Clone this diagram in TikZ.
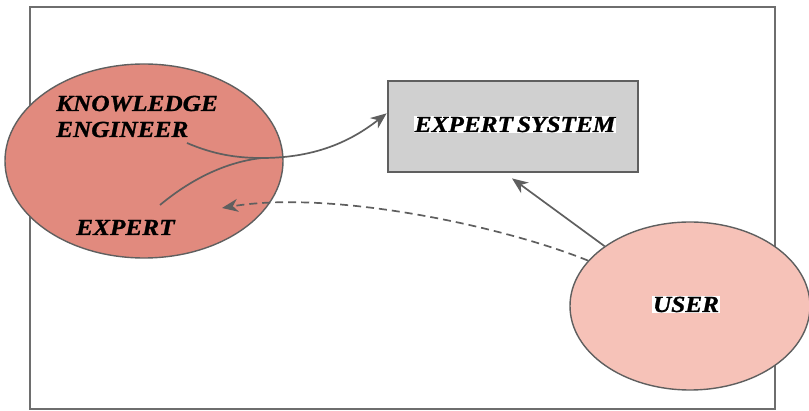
\documentclass[tikz,border=0pt]{standalone}
\usepackage{fontspec}
\newfontfamily\lblfont[FakeStretch=1.1,FakeBold=1]{Liberation Serif}
\usetikzlibrary{shapes.geometric,arrows.meta,calc}
\definecolor{keFill}{RGB}{225,138,126}
\definecolor{userFill}{RGB}{246,194,184}
\definecolor{boxFill}{RGB}{208,208,208}
\definecolor{edge}{RGB}{95,95,95}
\definecolor{frameC}{RGB}{110,110,110}
\tikzset{
  lbl/.style={inner sep=0pt, font=\lblfont\bfseries\itshape\fontsize{23}{26}\selectfont, text=black},
  blob/.style={ellipse, draw=edge, line width=1.4pt, inner sep=0pt},
  conn/.style={draw=edge, line width=1.7pt},
  tip/.style={-{Stealth[length=16pt,width=13pt,inset=5pt]}},
  dashconn/.style={conn, dash pattern=on 8pt off 5pt}
}
\begin{document}
\begin{tikzpicture}[x=1pt,y=-1pt]
\useasboundingbox (0,0) rectangle (809,411);
\draw[frameC, line width=1.8pt] (30,7) rectangle (775,409);
% nodes
\node[blob, fill=keFill, minimum width=278pt, minimum height=194pt] (ke) at (144,161) {};
\node[blob, fill=userFill, minimum width=240pt, minimum height=168pt] (user) at (690,306) {};
\node[draw=edge, line width=2.8pt, fill=boxFill, minimum width=250pt, minimum height=91pt, inner sep=0pt] (es) at (513,126.5) {};
\node[lbl, align=left, anchor=base west] (kel) at (56,137) {KNOWLEDGE\\ENGINEER};
\node[lbl, anchor=base west] (exl) at (76,235) {EXPERT};
\node[lbl, fill=white, inner sep=1pt, anchor=base] (esl) at (515,132) {EXPERT\,SYSTEM};
\node[lbl, fill=white, inner sep=1pt, anchor=base] (userl) at (686,312) {USER};
% connector points
\coordinate (kestart) at ($(kel.base west)+(131,6)$);
\coordinate (exstart) at ($(exl.base west)+(84,-30)$);
\coordinate (merge) at (262,158);
\coordinate (esin) at ($(es.north west)!0.36!(es.south west)$);
\coordinate (esbelow) at ($(es.south)+(-1,5)$);
\coordinate (exin) at (222,208);
% connectors
\draw[conn] (kestart) .. controls (215,155) and (238,158) .. (merge);
\draw[conn] (exstart) .. controls (190,180) and (225,162) .. (merge);
\draw[conn, tip] (merge) .. controls (320,158) and (355,138) .. (esin);
\draw[conn, tip] (user.145) -- (esbelow);
\draw[dashconn, tip] (user.156) .. controls (500,225) and (330,190) .. (exin);
\end{tikzpicture}
\end{document}
